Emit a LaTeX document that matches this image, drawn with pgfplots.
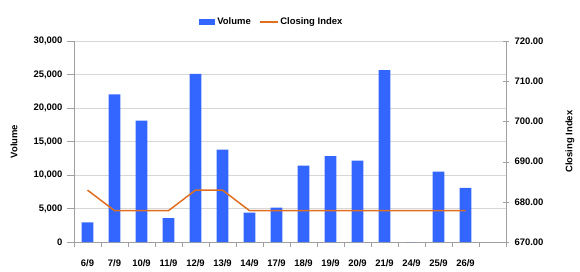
\documentclass[border=0pt]{standalone}
\usepackage{pgfplots}
\pgfplotsset{compat=1.18}
\usepackage{fontspec}
\setmainfont{Liberation Sans}
\definecolor{barblue}{RGB}{51,102,255}
\definecolor{lineorange}{RGB}{224,110,32}
\definecolor{gridgray}{RGB}{215,215,215}
\definecolor{axisgray}{RGB}{160,160,160}
\begin{document}
\begin{tikzpicture}[x=1bp,y=1bp]
\path[use as bounding box] (0,0) rectangle (580,271);
\begin{axis}[
  at={(74bp,29bp)}, anchor=south west,
  width=432bp, height=201bp, scale only axis,
  xmin=-0.5, xmax=15.5,
  ymin=0, ymax=30000,
  ytick={0,5000,...,30000},
  xtick={0,...,14},
  xticklabels={6/9,7/9,10/9,11/9,12/9,13/9,14/9,17/9,18/9,19/9,20/9,21/9,24/9,25/9,26/9},
  minor xtick={-0.5,0.5,...,15.5},
  major x tick style={draw=none},
  minor tick length=5bp,
  major tick length=7bp,
  tick align=outside,
  axis y line*=left,
  axis x line*=bottom,
  axis line style={axisgray},
  tick style={axisgray},
  ymajorgrids, grid style={gridgray, line width=0.8bp},
  every tick label/.append style={font=\fontsize{9.5}{11}\selectfont\bfseries, text=black},
  /pgf/number format/assume math mode=true,
  /pgf/number format/1000 sep={,},
  scaled y ticks=false,
  yticklabel style={xshift=-1bp},
  xticklabel style={yshift=-7bp},
  ylabel={Volume},
  ylabel style={font=\fontsize{9.5}{11}\selectfont\bfseries, at={(axis description cs:-0.139,0.5)}, anchor=center},
  legend style={draw=none, fill=none, at={(0.458,1.0945)}, anchor=center,
    font=\fontsize{9.5}{11}\selectfont\bfseries, legend columns=2,
    /tikz/every even column/.append style={column sep=6bp}},
  legend image code/.code={\fill[barblue] (0bp,-3bp) rectangle (16bp,3bp);},
]
\addplot[ybar, bar width=11.6bp, fill=barblue, draw=none] coordinates {
(0,2930) (1,22040) (2,18100) (3,3580) (4,25080) (5,13800) (6,4380) (7,5120)
(8,11400) (9,12800) (10,12130) (11,25650) (12,0) (13,10500) (14,8070)};
\addlegendentry{Volume}
\addlegendimage{legend image code/.code={\draw[lineorange, line width=1.5bp] (0bp,0bp) -- (18bp,0bp);}}
\addlegendentry{Closing Index}
\end{axis}
\begin{axis}[
  at={(74bp,29bp)}, anchor=south west,
  width=432bp, height=201bp, scale only axis,
  xmin=-0.5, xmax=15.5,
  ymin=670, ymax=720,
  ytick={670,680,...,720},
  axis x line=none,
  axis y line*=right,
  axis line style={axisgray},
  tick style={axisgray},
  major tick length=6bp,
  tick align=center,
  every tick label/.append style={font=\fontsize{9.5}{11}\selectfont\bfseries, text=black},
  /pgf/number format/assume math mode=true,
  /pgf/number format/fixed, /pgf/number format/precision=2,
  /pgf/number format/fixed zerofill, /pgf/number format/1000 sep={},
  yticklabel style={xshift=2bp},
  ylabel={Closing Index},
  ylabel style={font=\fontsize{9.5}{11}\selectfont\bfseries, at={(axis description cs:1.148,0.5)}, anchor=center},
]
\addplot[lineorange, line width=1.5bp, mark=none] coordinates {
(0,682.9) (1,677.8) (2,677.8) (3,677.8) (4,682.9) (5,682.9) (6,677.8) (7,677.8)
(8,677.8) (9,677.8) (10,677.8) (11,677.8) (12,677.8) (13,677.8) (14,677.8)};
\end{axis}
\end{tikzpicture}
\end{document}
